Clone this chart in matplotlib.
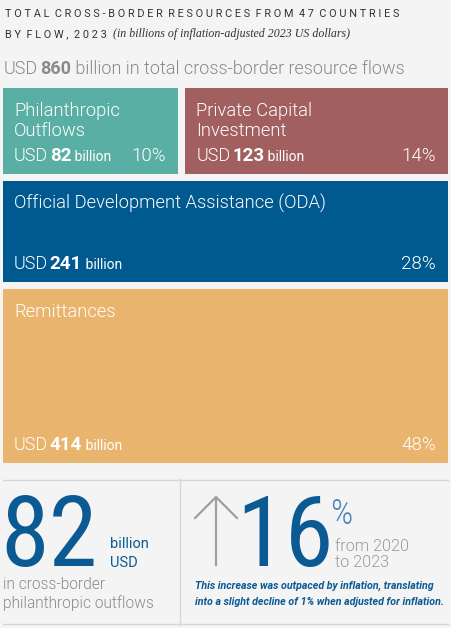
import matplotlib
matplotlib.use("Agg")
import matplotlib.pyplot as plt
from matplotlib.patches import Rectangle

# data
flows = ["Philanthropic\nOutflows", "Private Capital\nInvestment",
         "Official Development Assistance (ODA)", "Remittances"]
values = [82, 123, 241, 414]
shares = [10, 14, 28, 48]
colors = ["#5aafa4", "#a15f5f", "#005a8f", "#e9b46e"]
rows = [[0, 1], [2], [3]]
total = 860
growth_pct = 16

BG = "#f4f4f4"
FONT = "Roboto"
BLUE = "#0b5a94"
GRAY = "#8a8a8a"

fig = plt.figure(figsize=(4.52, 6.28), dpi=100, facecolor=BG)
ax = fig.add_axes([0, 0, 1, 1])
ax.set_xlim(0, 452)
ax.set_ylim(628, 0)
ax.axis("off")

fig.canvas.draw()
renderer = fig.canvas.get_renderer()


def run_text(x, y, parts, color, ha="left"):
    """Draw a row of text pieces with different sizes/weights, one after another."""
    items = []
    for s, size, weight in parts:
        t = ax.text(x, y, s, fontsize=size, fontweight=weight, color=color,
                    family=FONT, va="baseline", ha="left")
        items.append(t)
    widths = [t.get_window_extent(renderer).width for t in items]
    start = x - sum(widths) if ha == "right" else x
    for t, w in zip(items, widths):
        t.set_x(start)
        start += w
    return start


def lines_text(x, y, s, step, **kw):
    for k, line in enumerate(s.split("\n")):
        ax.text(x, y + k * step, line, va="baseline", **kw)


# title
ax.text(5, 17, "T O T A L  C R O S S - B O R D E R  R E S O U R C E S  F R O M  4 7  C O U N T R I E S",
        fontsize=7.8, color="#333333", family=FONT, va="baseline")
end = run_text(5, 37, [("B Y  F L O W ,  2 0 2 3 ", 7.8, "normal")], "#333333")
ax.text(end + 3, 37, "(in billions of inflation-adjusted 2023 US dollars)",
        fontsize=8.6, style="italic", color="#333333", family="Liberation Serif", va="baseline")

# headline
run_text(4, 74, [("USD", 13, 300), (" ", 6, 300), (str(total), 13, "bold"),
                 (" billion in total cross-border resource flows", 13, 300)], GRAY)

# treemap laid out from the values
x0, x1, y0, y1, gap = 3, 448, 88, 463, 7
avail_h = (y1 - y0) - gap * (len(rows) - 1)
y = y0
for row in rows:
    row_sum = sum(values[i] for i in row)
    h = avail_h * row_sum / total
    avail_w = (x1 - x0) - gap * (len(row) - 1)
    x = x0
    for i in row:
        w = avail_w * values[i] / row_sum
        ax.add_patch(Rectangle((x, y), w, h, facecolor=colors[i], edgecolor="none"))
        lines_text(x + 11, y + 28, flows[i], 19.5, fontsize=13.2, fontweight=300,
                   color="white", family=FONT)
        run_text(x + 11, y + h - 13, [("USD", 13, 300), (" ", 5, 300),
                                      (str(values[i]), 13.5, "bold"),
                                      (" billion", 10, "normal")], "white")
        ax.text(x + w - 12, y + h - 13, f"{shares[i]}%", fontsize=13.5, fontweight=300,
                color="white", family=FONT, va="baseline", ha="right")
        x += w + gap
    y += h + gap

# divider lines
ax.plot([3, 448], [480, 480], color="#d6d6d6", lw=1)
ax.plot([3, 448], [624, 624], color="#d6d6d6", lw=1)
ax.plot([180, 180], [479, 625], color="#d6d6d6", lw=1)

# big philanthropic number
ax.text(0.5, 566, str(values[0]), fontsize=71, fontweight="normal", color=BLUE,
        family="Roboto Condensed", va="baseline")
ax.text(110, 548, "billion", fontsize=10.5, color=BLUE, family=FONT, va="baseline")
ax.text(110, 567, "USD", fontsize=10.5, color=BLUE, family=FONT, va="baseline")
lines_text(3, 589, "in cross-border\nphilanthropic outflows", 19, fontsize=11.2,
           fontweight=300, color=GRAY, family=FONT)

# growth figure: up arrow
ax.plot([216, 216], [565, 498], color="#a0a0a0", lw=1.6)
ax.plot([195, 216, 237], [518, 497, 518], color="#a0a0a0", lw=1.6)
ax.text(236, 566, str(growth_pct), fontsize=71, fontweight="normal", color=BLUE,
        family="Roboto Condensed", va="baseline")
ax.text(330, 524, "%", fontsize=25, fontweight=300, color="#4f84ba",
        family="Roboto Condensed", va="baseline")
lines_text(335, 551, "from 2020\nto 2023", 16, fontsize=11.6, fontweight=300,
           color="#9a9a9a", family=FONT)
lines_text(195, 589, "This increase was outpaced by inflation, translating\n"
           "into a slight decline of 1% when adjusted for inflation.", 16,
           fontsize=7.7, style="italic", fontweight="bold", color=BLUE, family=FONT)

fig.savefig("out.png", dpi=100, facecolor=BG)
